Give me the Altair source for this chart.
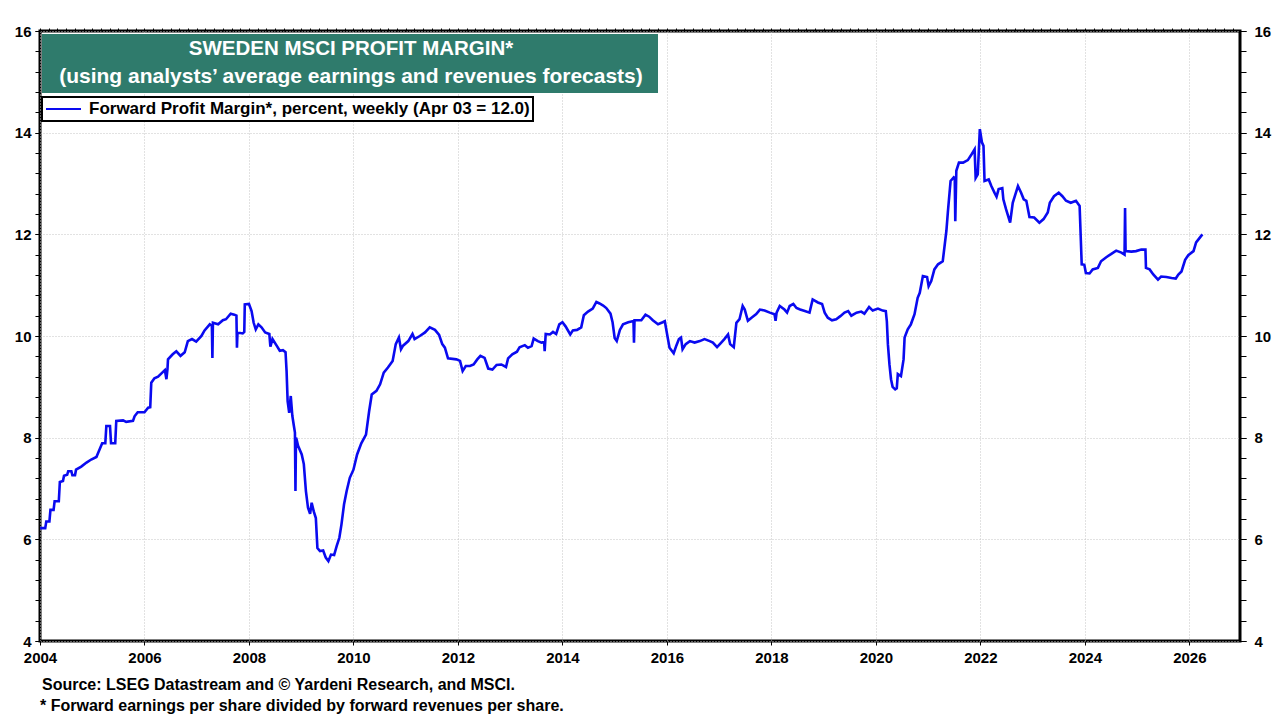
import altair as alt
import pandas as pd

years = [
    2004.00, 2004.10, 2004.12, 2004.18, 2004.20, 2004.26, 2004.28, 2004.36, 2004.38, 2004.44,
    2004.46, 2004.52, 2004.54, 2004.60, 2004.62, 2004.67, 2004.69, 2004.79, 2004.89, 2004.98,
    2005.08, 2005.12, 2005.19, 2005.25, 2005.27, 2005.34, 2005.36, 2005.44, 2005.46, 2005.59,
    2005.65, 2005.78, 2005.81, 2005.87, 2006.00, 2006.07, 2006.11, 2006.13, 2006.19, 2006.26,
    2006.32, 2006.39, 2006.42, 2006.44, 2006.45, 2006.54, 2006.61, 2006.69, 2006.77, 2006.83,
    2006.91, 2006.99, 2007.09, 2007.15, 2007.25, 2007.29, 2007.30, 2007.31, 2007.41, 2007.50,
    2007.56, 2007.65, 2007.72, 2007.76, 2007.77, 2007.78, 2007.88, 2007.91, 2007.92, 2008.00,
    2008.05, 2008.09, 2008.13, 2008.18, 2008.24, 2008.31, 2008.39, 2008.41, 2008.45, 2008.53,
    2008.59, 2008.65, 2008.70, 2008.72, 2008.74, 2008.77, 2008.80, 2008.83, 2008.86, 2008.88,
    2008.89, 2008.90, 2008.91, 2008.94, 2009.01, 2009.05, 2009.09, 2009.13, 2009.17, 2009.20,
    2009.24, 2009.28, 2009.31, 2009.36, 2009.42, 2009.47, 2009.52, 2009.57, 2009.63, 2009.68,
    2009.73, 2009.77, 2009.82, 2009.87, 2009.93, 2010.00, 2010.07, 2010.15, 2010.24, 2010.30,
    2010.35, 2010.44, 2010.51, 2010.58, 2010.66, 2010.75, 2010.81, 2010.87, 2010.91, 2010.95,
    2011.05, 2011.13, 2011.17, 2011.27, 2011.37, 2011.46, 2011.56, 2011.64, 2011.70, 2011.75,
    2011.81, 2011.97, 2012.04, 2012.09, 2012.15, 2012.23, 2012.30, 2012.37, 2012.43, 2012.51,
    2012.58, 2012.66, 2012.74, 2012.83, 2012.92, 2012.96, 2013.04, 2013.13, 2013.18, 2013.28,
    2013.34, 2013.41, 2013.45, 2013.53, 2013.60, 2013.65, 2013.66, 2013.68, 2013.76, 2013.82,
    2013.88, 2013.94, 2014.00, 2014.06, 2014.15, 2014.20, 2014.28, 2014.36, 2014.41, 2014.49,
    2014.58, 2014.65, 2014.71, 2014.78, 2014.84, 2014.92, 2014.96, 2015.00, 2015.04, 2015.10,
    2015.16, 2015.26, 2015.34, 2015.36, 2015.37, 2015.38, 2015.51, 2015.59, 2015.66, 2015.73,
    2015.83, 2015.92, 2015.96, 2016.02, 2016.05, 2016.13, 2016.18, 2016.23, 2016.27, 2016.30,
    2016.36, 2016.44, 2016.53, 2016.63, 2016.72, 2016.82, 2016.88, 2016.96, 2017.04, 2017.10,
    2017.17, 2017.21, 2017.28, 2017.33, 2017.39, 2017.45, 2017.49, 2017.55, 2017.62, 2017.71,
    2017.78, 2017.87, 2017.97, 2018.06, 2018.08, 2018.10, 2018.16, 2018.25, 2018.30, 2018.35,
    2018.42, 2018.48, 2018.55, 2018.64, 2018.73, 2018.79, 2018.89, 2018.97, 2019.02, 2019.08,
    2019.16, 2019.24, 2019.32, 2019.40, 2019.47, 2019.53, 2019.63, 2019.72, 2019.78, 2019.87,
    2019.94, 2020.04, 2020.13, 2020.19, 2020.21, 2020.23, 2020.26, 2020.29, 2020.32, 2020.37,
    2020.40, 2020.42, 2020.48, 2020.53, 2020.55, 2020.61, 2020.67, 2020.74, 2020.80, 2020.84,
    2020.90, 2020.98, 2021.01, 2021.06, 2021.12, 2021.19, 2021.28, 2021.35, 2021.38, 2021.43,
    2021.49, 2021.51, 2021.52, 2021.54, 2021.59, 2021.67, 2021.76, 2021.83, 2021.89, 2021.91,
    2021.95, 2021.99, 2022.03, 2022.06, 2022.08, 2022.16, 2022.21, 2022.27, 2022.31, 2022.35,
    2022.42, 2022.44, 2022.49, 2022.57, 2022.62, 2022.72, 2022.78, 2022.83, 2022.88, 2022.94,
    2023.03, 2023.13, 2023.21, 2023.29, 2023.33, 2023.41, 2023.50, 2023.57, 2023.64, 2023.73,
    2023.83, 2023.90, 2023.94, 2023.99, 2024.02, 2024.09, 2024.15, 2024.25, 2024.31, 2024.41,
    2024.50, 2024.60, 2024.70, 2024.76, 2024.77, 2024.78, 2024.89, 2024.98, 2025.08, 2025.16,
    2025.17, 2025.24, 2025.31, 2025.40, 2025.46, 2025.56, 2025.66, 2025.74, 2025.79, 2025.85,
    2025.92, 2025.98, 2026.08, 2026.13, 2026.19, 2026.25,
]

values = [
    6.22, 6.22, 6.35, 6.35, 6.58, 6.58, 6.75, 6.75, 7.13, 7.15,
    7.25, 7.27, 7.34, 7.34, 7.26, 7.26, 7.37, 7.43, 7.51, 7.57,
    7.62, 7.72, 7.89, 7.89, 8.23, 8.23, 7.89, 7.89, 8.33, 8.34,
    8.31, 8.33, 8.42, 8.50, 8.50, 8.59, 8.60, 9.08, 9.17, 9.20,
    9.26, 9.33, 9.15, 9.35, 9.54, 9.64, 9.70, 9.61, 9.68, 9.90,
    9.94, 9.89, 10.00, 10.11, 10.23, 10.20, 9.57, 10.26, 10.23, 10.31,
    10.33, 10.44, 10.42, 10.40, 9.77, 10.07, 10.05, 10.08, 10.62, 10.63,
    10.49, 10.26, 10.13, 10.23, 10.17, 10.07, 10.04, 9.79, 9.94, 9.81,
    9.71, 9.72, 9.68, 9.31, 8.72, 8.49, 8.82, 8.43, 8.23, 8.10,
    6.95, 8.00, 7.97, 7.84, 7.67, 7.48, 6.95, 6.62, 6.50, 6.72,
    6.55, 6.42, 5.83, 5.77, 5.78, 5.64, 5.57, 5.70, 5.69, 5.87,
    6.03, 6.29, 6.69, 6.95, 7.21, 7.37, 7.67, 7.89, 8.06, 8.52,
    8.85, 8.92, 9.05, 9.28, 9.38, 9.51, 9.84, 9.97, 9.74, 9.81,
    9.90, 10.04, 9.94, 10.00, 10.07, 10.17, 10.12, 10.02, 9.84, 9.77,
    9.56, 9.54, 9.51, 9.31, 9.41, 9.41, 9.44, 9.54, 9.61, 9.57,
    9.36, 9.34, 9.43, 9.44, 9.39, 9.56, 9.64, 9.69, 9.78, 9.82,
    9.77, 9.80, 9.95, 9.90, 9.87, 9.88, 9.70, 10.04, 10.03, 10.08,
    10.04, 10.23, 10.27, 10.19, 10.03, 10.11, 10.12, 10.17, 10.41, 10.48,
    10.54, 10.67, 10.64, 10.60, 10.55, 10.44, 10.27, 9.96, 9.90, 10.12,
    10.23, 10.27, 10.29, 10.29, 9.87, 10.31, 10.31, 10.42, 10.38, 10.31,
    10.23, 10.27, 10.29, 9.94, 9.77, 9.66, 9.81, 9.94, 9.97, 9.74,
    9.84, 9.90, 9.87, 9.90, 9.94, 9.90, 9.87, 9.78, 9.87, 9.94,
    10.03, 9.84, 9.78, 10.26, 10.33, 10.59, 10.52, 10.30, 10.36, 10.43,
    10.52, 10.50, 10.46, 10.43, 10.30, 10.46, 10.59, 10.52, 10.46, 10.59,
    10.63, 10.55, 10.52, 10.49, 10.46, 10.72, 10.66, 10.63, 10.46, 10.36,
    10.31, 10.33, 10.39, 10.46, 10.49, 10.40, 10.46, 10.48, 10.44, 10.57,
    10.50, 10.54, 10.50, 10.49, 10.29, 9.84, 9.44, 9.15, 9.00, 8.95,
    8.97, 9.25, 9.21, 9.54, 9.97, 10.13, 10.23, 10.43, 10.75, 10.85,
    11.18, 11.16, 10.98, 11.08, 11.31, 11.41, 11.47, 12.07, 12.46, 13.05,
    13.12, 13.10, 12.26, 13.25, 13.41, 13.41, 13.46, 13.57, 13.67, 13.11,
    13.18, 14.07, 13.81, 13.74, 13.05, 13.08, 12.95, 12.82, 12.74, 12.89,
    12.91, 12.69, 12.50, 12.23, 12.62, 12.95, 12.82, 12.69, 12.66, 12.34,
    12.33, 12.23, 12.30, 12.43, 12.62, 12.75, 12.82, 12.75, 12.66, 12.62,
    12.66, 12.56, 11.41, 11.40, 11.24, 11.23, 11.31, 11.34, 11.47, 11.55,
    11.61, 11.68, 11.64, 11.60, 12.52, 11.67, 11.66, 11.67, 11.70, 11.70,
    11.34, 11.31, 11.21, 11.11, 11.17, 11.16, 11.14, 11.13, 11.21, 11.27,
    11.50, 11.59, 11.67, 11.84, 11.92, 12.00,
]

series_name = "Forward Profit Margin*, percent, weekly (Apr 03 = 12.0)"
title_lines = ["SWEDEN MSCI PROFIT MARGIN*",
               "(using analysts\u2019 average earnings and revenues forecasts)"]
footnotes = ["Source: LSEG Datastream and \u00a9 Yardeni Research, and MSCI.",
             "* Forward earnings per share divided by forward revenues per share."]

x_major = list(range(2004, 2027, 2))
x_minor = [2004 + k / 6 for k in range(0, 23 * 6)]
y_major = [4, 6, 8, 10, 12, 14, 16]
y_minor = [round(4 + 0.4 * k, 2) for k in range(0, 31)]

FONT = "Liberation Sans"
BLUE = "#0A0AF0"
TEAL = "#2F7B6C"
GRID = "#C4C4C4"

df = pd.DataFrame({"year": years, "value": values, "series": series_name})

xs = alt.Scale(domain=[2004, 2026.97], nice=False, zero=False)
ys = alt.Scale(domain=[4, 16], nice=False, zero=False)

axis_common = dict(domain=False, tickColor="black", labelFont=FONT,
                   labelFontWeight="bold", labelFontSize=15, labelColor="black")

x_main_axis = alt.Axis(values=x_major, format="d", grid=True, gridColor=GRID,
                       gridDash=[1, 2], gridWidth=1, tickSize=4, labelPadding=5,
                       title=None, labelFlush=False, **axis_common)
y_left_axis = alt.Axis(values=y_major, format="d", grid=True, gridColor=GRID,
                       gridDash=[1, 2], gridWidth=1, tickSize=5, labelPadding=4,
                       title=None, orient="left", **axis_common)

base = alt.Chart(df)

line = base.mark_line(strokeWidth=2.6).encode(
    x=alt.X("year:Q", scale=xs, axis=x_main_axis),
    y=alt.Y("value:Q", scale=ys, axis=y_left_axis),
    color=alt.Color("series:N",
                    scale=alt.Scale(domain=[series_name], range=[BLUE]),
                    legend=alt.Legend(title=None, orient="none", legendX=2, legendY=66,
                                      fillColor="white", strokeColor="black",
                                      padding=3, symbolType="stroke", symbolSize=1225,
                                      symbolStrokeWidth=2, labelOffset=7,
                                      clipHeight=18,
                                      labelFont=FONT, labelFontWeight="bold",
                                      labelFontSize=17, labelColor="black",
                                      labelLimit=800)),
)

minor_left = base.mark_line(opacity=0).encode(
    x=alt.X("year:Q", scale=xs,
            axis=alt.Axis(values=x_minor, labels=False, grid=False, domain=False,
                          tickSize=3, tickColor="black", title=None)),
    y=alt.Y("value:Q", scale=ys,
            axis=alt.Axis(values=y_minor, labels=False, grid=False, domain=False,
                          tickSize=5, tickColor="black", title=None, orient="left")),
)

right_major = base.mark_line(opacity=0).encode(
    x=alt.X("year:Q", scale=xs, axis=None),
    y=alt.Y("value:Q", scale=ys,
            axis=alt.Axis(values=y_major, format="d", grid=False, tickSize=6,
                          labelPadding=8, title=None, orient="right", **axis_common)),
)

right_minor = base.mark_line(opacity=0).encode(
    x=alt.X("year:Q", scale=xs, axis=None),
    y=alt.Y("value:Q", scale=ys,
            axis=alt.Axis(values=y_minor, labels=False, grid=False, domain=False,
                          tickSize=6, tickColor="black", title=None, orient="right")),
)

box_df = pd.DataFrame({"t": [0]})
title_box = alt.Chart(box_df).mark_rect(color=TEAL).encode(
    x=alt.value(2), x2=alt.value(618), y=alt.value(3), y2=alt.value(62)
)
t1 = alt.Chart(pd.DataFrame({"t": [title_lines[0]]})).mark_text(
    font=FONT, fontWeight="bold", fontSize=20.5, color="white", align="center",
    baseline="middle").encode(x=alt.value(311), y=alt.value(18), text="t:N")
t2 = alt.Chart(pd.DataFrame({"t": [title_lines[1]]})).mark_text(
    font=FONT, fontWeight="bold", fontSize=21, color="white", align="center",
    baseline="middle").encode(x=alt.value(311), y=alt.value(46), text="t:N")

f1 = alt.Chart(pd.DataFrame({"t": [footnotes[0]]})).mark_text(
    font=FONT, fontWeight="bold", fontSize=16, color="black", align="left",
    baseline="alphabetic").encode(x=alt.value(2), y=alt.value(659), text="t:N")
f2 = alt.Chart(pd.DataFrame({"t": [footnotes[1]]})).mark_text(
    font=FONT, fontWeight="bold", fontSize=16, color="black", align="left",
    baseline="alphabetic").encode(x=alt.value(0), y=alt.value(680), text="t:N")

chart = alt.layer(
    line, minor_left, right_major, right_minor, title_box, t1, t2, f1, f2
).resolve_axis(
    x="independent", y="independent"
).properties(
    width=1200, height=610,
    autosize=alt.AutoSizeParams(type="none"),
    padding={"left": 32, "top": 23, "right": 32, "bottom": 77},
    background="white",
).configure_view(
    stroke="black", strokeWidth=3
).configure_legend(
    strokeWidth=2
)

chart.save("out.html", embed_options={"renderer": "svg", "actions": False})
